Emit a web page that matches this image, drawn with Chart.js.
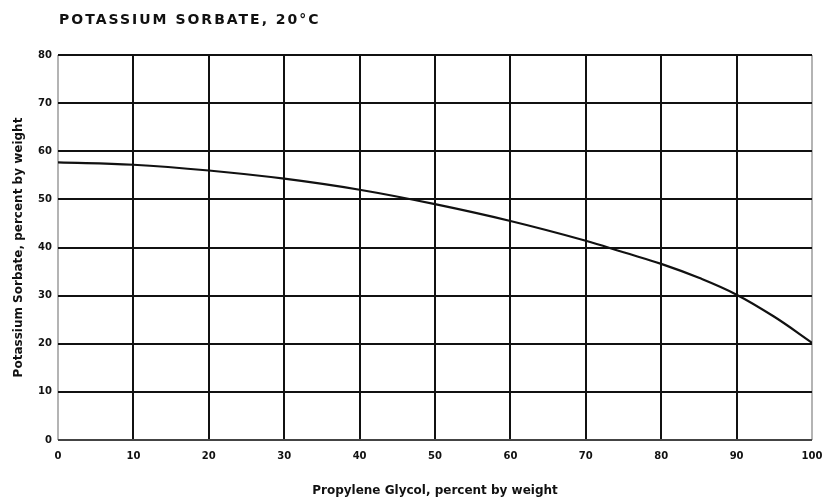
<!DOCTYPE html>
<html>
<head>
<meta charset="utf-8">
<script src="https://cdn.jsdelivr.net/npm/chart.js@4"></script>
<style>
    html, body { margin: 0; padding: 0; background: #fff; }
    #wrap { position: relative; width: 823px; height: 502px; }
    #title {
        position: absolute; left: 59px; top: 11px;
        font: bold 14px "DejaVu Sans", sans-serif; color: #111;
        letter-spacing: 2px;
    }
</style>
</head>
<body>
<div id="wrap">
    <div id="title">POTASSIUM SORBATE, 20°C</div>
    <canvas id="chart" width="823" height="502"></canvas>
</div>
<script>
    // solubility of potassium sorbate vs. propylene glycol content
    var glycolPct = [0, 10, 20, 30, 40, 50, 60, 70, 75, 80, 85, 90, 95, 100];
    var sorbatePct = [57.7, 57.2, 56.0, 54.3, 52.0, 49.0, 45.5, 41.4, 39.0, 36.6, 33.7, 30.2, 25.6, 20.2];
    var xTicks = [0, 10, 20, 30, 40, 50, 60, 70, 80, 90, 100];
    var yTicks = [0, 10, 20, 30, 40, 50, 60, 70, 80];

    var tickFont = { family: 'DejaVu Sans', size: 10, weight: 'bold' };
    var labelFont = { family: 'DejaVu Sans', size: 12, weight: 'bold' };

    function edgeColor(ctx) {
        var v = ctx.tick ? ctx.tick.value : null;
        return v === 0 || v === 100 ? '#b4b4b4' : '#111';
    }

    new Chart(document.getElementById('chart'), {
        type: 'scatter',
        data: {
            datasets: [{
                data: glycolPct.map(function (x, i) {
                    return { x: x, y: sorbatePct[i] };
                }),
                showLine: true,
                borderColor: '#111',
                borderWidth: 2.2,
                pointRadius: 0,
                tension: 0.4
            }]
        },
        options: {
            responsive: false,
            animation: false,
            layout: { padding: { top: 55, right: 0, left: 0, bottom: 0 } },
            plugins: { legend: { display: false }, tooltip: { enabled: false } },
            scales: {
                x: {
                    type: 'linear', min: 0, max: 100,
                    afterBuildTicks: function (s) { s.ticks = xTicks.map(function (v) { return { value: v }; }); },
                    afterFit: function (s) { s.height = 62; s.paddingRight = 11; },
                    border: { display: false },
                    grid: { color: edgeColor, lineWidth: 2, drawTicks: false },
                    ticks: { color: '#111', font: tickFont, padding: 10, maxRotation: 0 },
                    title: { display: true, text: 'Propylene Glycol, percent by weight', color: '#111', font: labelFont, padding: { top: 14 } }
                },
                y: {
                    min: 0, max: 80,
                    afterBuildTicks: function (s) { s.ticks = yTicks.map(function (v) { return { value: v }; }); },
                    afterFit: function (s) { s.width = 58; },
                    border: { display: false },
                    grid: {
                        color: function (ctx) { return ctx.tick && ctx.tick.value === 0 ? '#444' : '#111'; },
                        lineWidth: 2, drawTicks: false
                    },
                    ticks: { color: '#111', font: tickFont, padding: 6 },
                    title: { display: true, text: 'Potassium Sorbate, percent by weight', color: '#111', font: labelFont, padding: { top: 12, bottom: 0 } }
                }
            }
        }
    });
</script>
</body>
</html>
